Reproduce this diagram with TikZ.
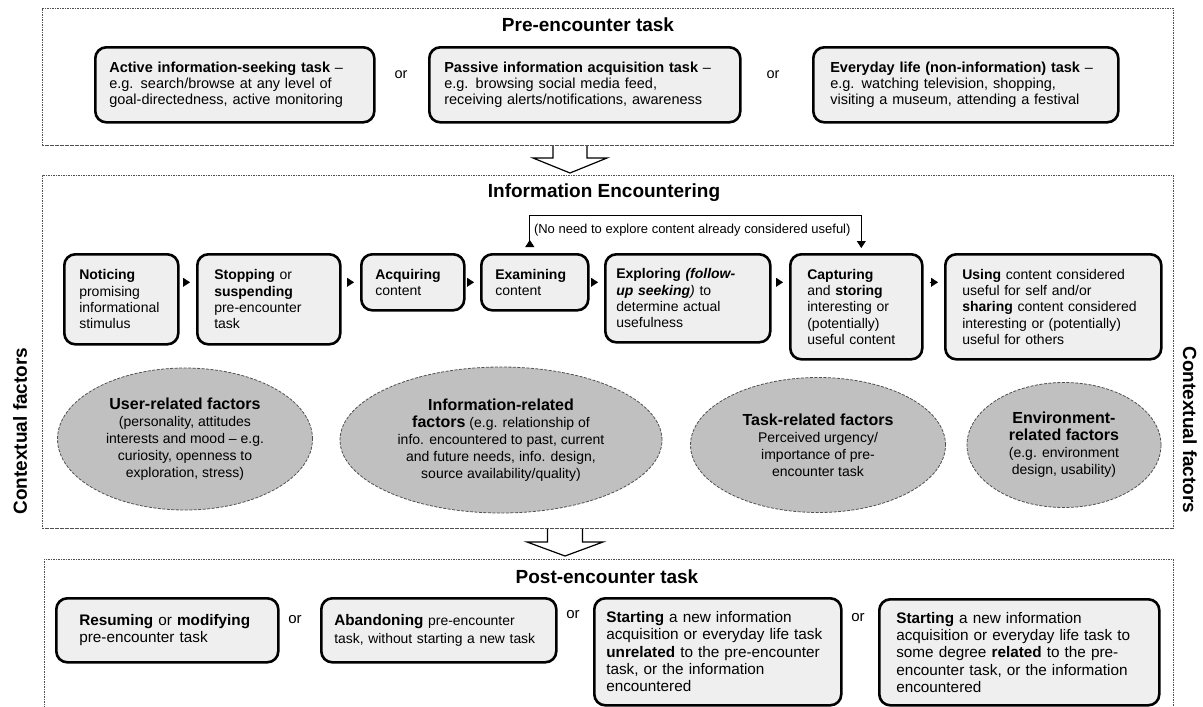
\documentclass[tikz,border=0pt]{standalone}
\usepackage{fontspec}
\setmainfont{Liberation Sans}
\usetikzlibrary{arrows.meta,shapes.geometric}
\hyphenpenalty=10000
\exhyphenpenalty=10000
\definecolor{boxfill}{HTML}{EFEFEF}
\definecolor{factorfill}{HTML}{C0C0C0}
\definecolor{dashgray}{HTML}{505050}
\newcommand{\ftitle}[1]{{\fontsize{16}{18}\selectfont\bfseries #1}}
\tikzset{
  stage/.style={draw=dashgray, line width=0.8pt, dash pattern=on 1.6pt off 0.9pt, anchor=north west, inner sep=0pt},
  stagetitle/.style={font=\fontsize{19}{22}\selectfont\bfseries},
  sidelabel/.style={font=\fontsize{19}{22}\selectfont\bfseries},
  taskbox/.style={draw, line width=2.6pt, rounded corners=11pt, fill=boxfill, anchor=north west, align=left, inner ysep=0pt},
  toptext/.style={font=\fontsize{14.5}{16}\selectfont},
  midtext/.style={font=\fontsize{14}{16.3}\selectfont},
  posttext/.style={font=\fontsize{15.3}{17.3}\selectfont},
  ortext/.style={font=\fontsize{14.5}{16}\selectfont},
  factor/.style={ellipse, draw=dashgray, line width=0.8pt, dash pattern=on 3pt off 1.5pt, fill=factorfill, align=center, inner sep=0pt, font=\fontsize{14}{17}\selectfont},
  flow/.style={-{Triangle[length=7pt,width=9pt]}, line width=0.4pt, shorten <=6pt, shorten >=6pt},
  loopline/.style={{Triangle[length=7pt,width=9pt,reversed]}-{Triangle[length=7pt,width=9pt]}, line width=0.8pt, shorten <=6pt, shorten >=5pt},
  looplabel/.style={font=\fontsize{13}{15}\selectfont, inner sep=0pt},
  hollowarrow/.style={draw, line width=1.2pt, fill=white, line join=miter}
}
\begin{document}
\begin{tikzpicture}[x=1pt, y=-1pt]
  \useasboundingbox (0,0) rectangle (1203,707);
  % big arrows between the stages
  \coordinate (arrA) at (570,145);
  \coordinate (arrB) at (565,528);
  \draw[hollowarrow] (arrA) ++(-17,0) -- ++(0,13) -- ++(-20,0) -- ++(37,15) -- ++(37,-15) -- ++(-20,0) -- ++(0,-13);
  \draw[hollowarrow] (arrB) ++(-17.5,0) -- ++(0,14) -- ++(-20.5,0) -- ++(38,14) -- ++(38,-14) -- ++(-20.5,0) -- ++(0,-14);

  % stages
  \node[stage, minimum width=1131pt, minimum height=137pt] (pre) at (42,8) {};
  \node[stage, minimum width=1131pt, minimum height=353pt] (enc) at (42,175) {};
  \node[stage, minimum width=1129pt, minimum height=170pt] (post) at (44,559) {};
  \node[stagetitle] (pretitle) at (588,25) {Pre-encounter task};
  \node[stagetitle] (enctitle) at (604,193) {Information Encountering};
  \node[stagetitle] (posttitle) at (607,577) {Post-encounter task};
  \node[sidelabel, rotate=90] (ctxleft) at (20,431) {Contextual factors};
  \node[sidelabel, rotate=-90] (ctxright) at (1190,430) {Contextual factors};

  % pre-encounter task
  \node[taskbox, toptext, inner xsep=14pt, text width=251pt, minimum height=75pt] (active) at (94,46)
    {\textbf{Active information-seeking task} --\\e.g. search/browse at any level of\\goal-directedness, active monitoring};
  \node[ortext] (or1) at (401,75) {or};
  \node[taskbox, toptext, inner xsep=15pt, text width=281pt, minimum height=75pt] (passive) at (428,46)
    {\textbf{Passive information acquisition task} --\\e.g. browsing social media feed,\\receiving alerts/notifications, awareness};
  \node[ortext] (or2) at (773,75) {or};
  \node[taskbox, toptext, inner xsep=17pt, text width=271pt, minimum height=75pt] (everyday) at (812,46)
    {\textbf{Everyday life (non-information) task} --\\e.g. watching television, shopping,\\visiting a museum, attending a festival};

  % information encountering
  \node[taskbox, midtext, inner xsep=15pt, text width=84pt, minimum height=90pt] (noticing) at (63,253)
    {\textbf{Noticing}\\promising\\informational\\stimulus};
  \node[taskbox, midtext, inner xsep=17pt, text width=109pt, minimum height=90pt] (stopping) at (196,253)
    {\textbf{Stopping} or\\\textbf{suspending}\\pre-encounter\\task};
  \node[taskbox, midtext, inner xsep=14pt, text width=75pt, minimum height=56pt] (acquiring) at (360,253)
    {\textbf{Acquiring}\\content};
  \node[taskbox, midtext, inner xsep=14pt, text width=79pt, minimum height=56pt] (examining) at (480,253)
    {\textbf{Examining}\\content};
  \node[taskbox, midtext, inner xsep=11pt, text width=143pt, minimum height=88pt] (exploring) at (604,253)
    {\textbf{Exploring \textit{(follow-}}\\\textbf{\textit{up seeking}}\textit{)} to\\determine actual\\usefulness};
  \node[taskbox, midtext, inner xsep=17pt, text width=98pt, minimum height=105pt] (capturing) at (789,253)
    {\textbf{Capturing}\\and \textbf{storing}\\interesting or\\(potentially)\\useful content};
  \node[taskbox, midtext, inner xsep=17pt, text width=182pt, minimum height=105pt] (using) at (944,253)
    {\textbf{Using} content considered\\useful for self and/or\\\textbf{sharing} content considered\\interesting or (potentially)\\useful for others};

  \foreach \a/\b in {noticing/stopping, stopping/acquiring, acquiring/examining,
                     examining/exploring, exploring/capturing, capturing/using}
    \draw[flow] (\a.east |- acquiring) -- (\b.west |- acquiring);

  \draw[loopline] ([xshift=-5pt]examining.north) -- ++(0,-38) coordinate (loopcorner) -| ([xshift=5pt]capturing.north);
  \node[looplabel, anchor=west] (looptext) at ([xshift=4pt,yshift=-15pt]loopcorner)
    {(No need to explore content already considered useful)};

  % contextual factors
  \node[factor, minimum width=255pt, minimum height=142pt] (userf) at (185,439)
    {\ftitle{User-related factors}\\(personality, attitudes\\interests and mood -- e.g.\\curiosity, openness to\\exploration, stress)};
  \node[factor, minimum width=322pt, minimum height=146pt] (infof) at (501,440)
    {\ftitle{Information-related}\\\ftitle{factors} (e.g. relationship of\\info. encountered to past, current\\and future needs, info. design,\\source availability/quality)};
  \node[factor, minimum width=255pt, minimum height=135pt] (taskf) at (818,445)
    {\ftitle{Task-related factors}\\Perceived urgency/\\importance of pre-\\encounter task};
  \node[factor, minimum width=194pt, minimum height=125pt] (envf) at (1064,445)
    {\ftitle{Environment-}\\\ftitle{related factors}\\(e.g. environment\\design, usability)};

  % post-encounter task
  \node[taskbox, posttext, inner xsep=23pt, text width=176pt, minimum height=64pt] (resuming) at (55,597)
    {\textbf{Resuming} or \textbf{modifying}\\pre-encounter task};
  \node[ortext, font=\fontsize{15}{17}\selectfont] (or3) at (295,620) {or};
  \node[taskbox, font=\fontsize{13.9}{17.3}\selectfont, inner xsep=13pt, text width=209pt, minimum height=64pt] (abandoning) at (320,597)
    {{\fontsize{15.3}{17.3}\selectfont\bfseries Abandoning} pre-encounter\\task, without starting a new task};
  \node[ortext, font=\fontsize{15}{17}\selectfont] (or4) at (573,615) {or};
  \node[taskbox, posttext, inner xsep=12pt, text width=223pt, minimum height=107pt] (unrelated) at (593,597)
    {\textbf{Starting} a new information\\acquisition or everyday life task\\\textbf{unrelated} to the pre-encounter\\task, or the information\\encountered};
  \node[ortext, font=\fontsize{15}{17}\selectfont] (or5) at (858,618) {or};
  \node[taskbox, posttext, inner xsep=17pt, text width=246pt, minimum height=106pt] (related) at (878,598)
    {\textbf{Starting} a new information\\acquisition or everyday life task to\\some degree \textbf{related} to the pre-\\encounter task, or the information\\encountered};
\end{tikzpicture}
\end{document}
